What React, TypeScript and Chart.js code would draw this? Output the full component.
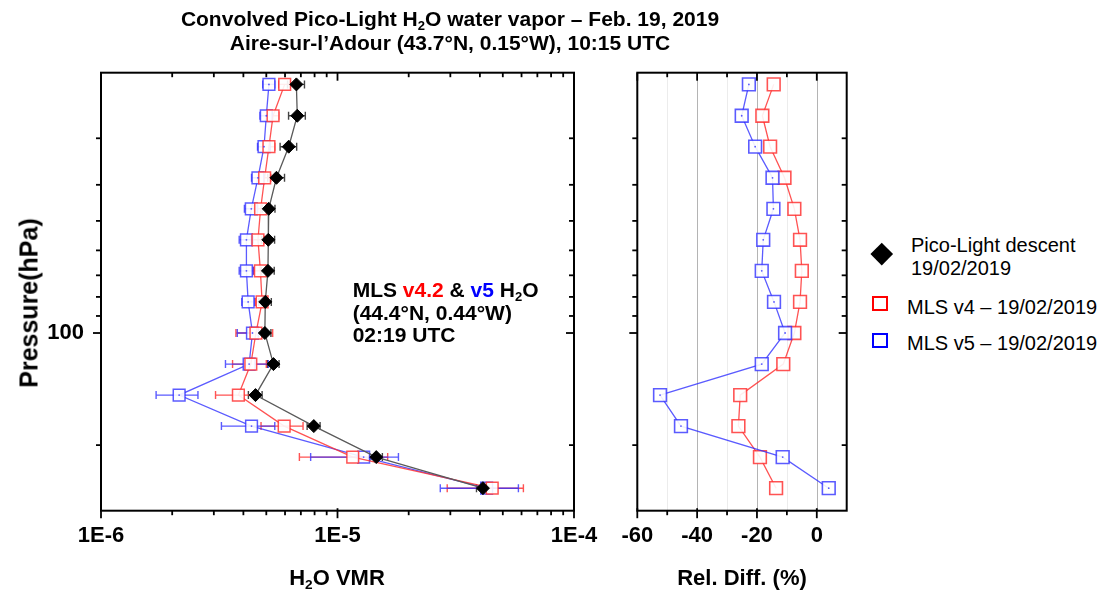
import React, { useEffect, useRef } from 'react';
import { Chart, registerables } from 'chart.js';

Chart.register(...registerables);

const FONT = '"Liberation Sans", Arial, Helvetica, sans-serif';

// ---------- data ----------
const pressureLevels = [21.5, 26.1, 31.6, 38.3, 46.4, 56.2, 68.1, 82.5, 100.0, 121.2, 146.8, 177.8, 215.4, 261.0];

const picoVmr = [6.70e-6, 6.76e-6, 6.22e-6, 5.52e-6, 5.12e-6, 5.10e-6, 5.08e-6, 4.95e-6, 4.93e-6, 5.36e-6, 4.50e-6, 7.94e-6, 1.458e-5, 4.12e-5];
const picoErr = [0.55e-6, 0.55e-6, 0.5e-6, 0.45e-6, 0.32e-6, 0.32e-6, 0.32e-6, 0.3e-6, 0.3e-6, 0.3e-6, 0.3e-6, 0.5e-6, 0.9e-6, 2.5e-6];

const mlsV4Vmr = [5.98e-6, 5.34e-6, 5.13e-6, 4.92e-6, 4.73e-6, 4.61e-6, 4.72e-6, 4.80e-6, 4.52e-6, 4.30e-6, 3.81e-6, 5.95e-6, 1.16e-5, 4.51e-5];
const mlsV4Err = [0.33e-6, 0.3e-6, 0.3e-6, 0.3e-6, 0.3e-6, 0.3e-6, 0.3e-6, 0.3e-6, 0.8e-6, 0.7e-6, 0.76e-6, 1.2e-6, 4.7e-6, 1.6e-5];

const mlsV5Vmr = [5.13e-6, 5.00e-6, 4.89e-6, 4.61e-6, 4.32e-6, 4.12e-6, 4.12e-6, 4.19e-6, 4.37e-6, 4.23e-6, 2.14e-6, 4.33e-6, 1.29e-5, 4.27e-5];
const mlsV5Err = [0.3e-6, 0.3e-6, 0.3e-6, 0.28e-6, 0.28e-6, 0.28e-6, 0.28e-6, 0.25e-6, 0.6e-6, 0.87e-6, 0.43e-6, 1.1e-6, 5.2e-6, 1.55e-5];

const relDiffV4 = [-14.4, -18.2, -15.6, -10.8, -7.5, -5.6, -5.0, -5.6, -7.5, -11.2, -25.6, -26.2, -19.0, -13.6];
const relDiffV5 = [-22.7, -25.1, -20.6, -14.8, -14.5, -17.9, -18.4, -14.3, -10.6, -18.4, -52.4, -45.4, -11.4, 4.0];

// ---------- axes ----------
const vmrMajorTicks = [1e-6, 1e-5, 1e-4];
const vmrTickLabels = ['1E-6', '1E-5', '1E-4'];
const vmrMinorTicks = [2e-6, 3e-6, 4e-6, 5e-6, 6e-6, 7e-6, 8e-6, 9e-6, 2e-5, 3e-5, 4e-5, 5e-5, 6e-5, 7e-5, 8e-5, 9e-5];
const pressureMajorTicks = [100];
const pressureMinorTicks = [30, 40, 50, 60, 70, 80, 90, 200];
const diffMajorTicks = [-60, -40, -20, 0];
const diffMinorTicks = [-50, -30, -10];
const diffGridMajor = [-40, -20, 0];
const diffGridMinor = [-50, -30, -10];

const RED = 'rgba(255,45,45,0.82)';
const BLUE = 'rgba(45,45,255,0.78)';
const GRAYLINE = '#5a5a5a';

const TICK_FONT = { family: FONT, size: 22, weight: 'bold' as const };

const framePlugin = {
  id: 'frame',
  beforeDatasetsDraw(chart: any, _a: any, opts: any) {
    const { ctx, chartArea } = chart;
    const xs = chart.scales.x;
    ctx.save();
    ctx.lineWidth = 1;
    (opts.gridMinor || []).forEach((v: number) => {
      const px = Math.round(xs.getPixelForValue(v)) + 0.5;
      ctx.strokeStyle = '#ececec';
      ctx.beginPath();
      ctx.moveTo(px, chartArea.top);
      ctx.lineTo(px, chartArea.bottom);
      ctx.stroke();
    });
    (opts.gridMajor || []).forEach((v: number) => {
      const px = Math.round(xs.getPixelForValue(v)) + 0.5;
      ctx.strokeStyle = '#b4b4b4';
      ctx.beginPath();
      ctx.moveTo(px, chartArea.top);
      ctx.lineTo(px, chartArea.bottom);
      ctx.stroke();
    });
    ctx.restore();
  },
  afterDraw(chart: any, _a: any, opts: any) {
    const { ctx, chartArea } = chart;
    const { left, right, top, bottom } = chartArea;
    const xs = chart.scales.x;
    const ys = chart.scales.y;
    ctx.save();
    ctx.strokeStyle = '#000';
    ctx.lineWidth = 2;
    ctx.strokeRect(left, top, right - left, bottom - top);
    ctx.lineWidth = 1.8;
    const line = (x1: number, y1: number, x2: number, y2: number) => {
      ctx.beginPath();
      ctx.moveTo(x1, y1);
      ctx.lineTo(x2, y2);
      ctx.stroke();
    };
    (opts.xMajor || []).forEach((v: number) => {
      const px = xs.getPixelForValue(v);
      line(px, bottom - 2.5, px, bottom + 7.5);
      line(px, top, px, top + 8);
    });
    (opts.xMinor || []).forEach((v: number) => {
      const px = xs.getPixelForValue(v);
      line(px, bottom, px, bottom + 4.5);
      line(px, top, px, top + 4.5);
    });
    (opts.yMajor || []).forEach((v: number) => {
      const py = ys.getPixelForValue(v);
      line(left - 8, py, left, py);
      line(right - 8, py, right, py);
    });
    (opts.yMinor || []).forEach((v: number) => {
      const py = ys.getPixelForValue(v);
      line(left - 5, py, left, py);
      line(right - 5, py, right, py);
    });
    ctx.restore();
  },
};

const errorBarPlugin = {
  id: 'errorBars',
  beforeDatasetsDraw(chart: any) {
    const { ctx } = chart;
    const xs = chart.scales.x;
    const ys = chart.scales.y;
    chart.data.datasets.forEach((ds: any) => {
      if (!ds.errors) return;
      ctx.save();
      ctx.strokeStyle = ds.errorColor;
      ctx.lineWidth = 1.4;
      ds.data.forEach((pt: any, j: number) => {
        const e = ds.errors[j];
        const x1 = xs.getPixelForValue(pt.x - e);
        const x2 = xs.getPixelForValue(pt.x + e);
        const y = ys.getPixelForValue(pt.y);
        ctx.beginPath();
        ctx.moveTo(x1, y);
        ctx.lineTo(x2, y);
        ctx.moveTo(x1, y - 4);
        ctx.lineTo(x1, y + 4);
        ctx.moveTo(x2, y - 4);
        ctx.lineTo(x2, y + 4);
        ctx.stroke();
      });
      ctx.restore();
    });
  },
};

const pts = (xs: number[]) => pressureLevels.map((p, i) => ({ x: xs[i], y: p }));

function T(props: any) {
  const { x, base, size, bold, align, children, color } = props;
  const style: any = {
    position: 'absolute',
    left: x,
    top: base - 0.8465 * size,
    fontFamily: FONT,
    fontSize: size,
    lineHeight: `${size}px`,
    fontWeight: bold ? 'bold' : 'normal',
    whiteSpace: 'nowrap',
    color: color || '#000',
    transform: align === 'center' ? 'translateX(-50%)' : align === 'right' ? 'translateX(-100%)' : undefined,
  };
  return <div style={style}>{children}</div>;
}

const Sub = ({ children }: any) => (
  <span style={{ fontSize: '0.62em', position: 'relative', top: '0.28em', lineHeight: 0 }}>{children}</span>
);

export default function App() {
  const leftRef = useRef<HTMLCanvasElement>(null);
  const rightRef = useRef<HTMLCanvasElement>(null);

  useEffect(() => {
    const commonY = {
      type: 'logarithmic' as const,
      reverse: true,
      min: 20,
      max: 300,
      grid: { display: false, drawTicks: false },
      border: { display: false },
    };

    const left = new Chart(leftRef.current!, {
      type: 'scatter',
      data: {
        datasets: [
          {
            label: 'Pico-Light descent',
            data: pts(picoVmr),
            showLine: true,
            borderColor: GRAYLINE,
            borderWidth: 1.3,
            pointStyle: 'rectRot',
            pointRadius: 6.5,
            pointBackgroundColor: '#000',
            pointBorderColor: '#000',
            pointBorderWidth: 1,
            order: 0,
            errors: picoErr,
            errorColor: '#444',
          } as any,
          {
            label: 'MLS v5 centre',
            data: pts(mlsV5Vmr),
            showLine: false,
            pointStyle: 'circle',
            pointRadius: 0.9,
            pointBackgroundColor: BLUE,
            pointBorderWidth: 0,
            order: 1,
          } as any,
          {
            label: 'MLS v4',
            data: pts(mlsV4Vmr),
            showLine: true,
            borderColor: RED,
            borderWidth: 1.3,
            pointStyle: 'rect',
            pointRadius: 8.3,
            pointBackgroundColor: 'rgba(255,255,255,0.9)',
            pointBorderColor: RED,
            pointBorderWidth: 1.5,
            order: 2,
            errors: mlsV4Err,
            errorColor: RED,
          } as any,
          {
            label: 'MLS v5',
            data: pts(mlsV5Vmr),
            showLine: true,
            borderColor: BLUE,
            borderWidth: 1.3,
            pointStyle: 'rect',
            pointRadius: 8.3,
            pointBackgroundColor: 'rgba(255,255,255,0.9)',
            pointBorderColor: BLUE,
            pointBorderWidth: 1.5,
            order: 3,
            errors: mlsV5Err,
            errorColor: BLUE,
          } as any,
        ],
      },
      options: {
        animation: false,
        responsive: false,
        maintainAspectRatio: false,
        devicePixelRatio: 1,
        layout: { padding: { left: 0, right: 46, top: 72.7, bottom: 0 } },
        plugins: {
          legend: { display: false },
          tooltip: { enabled: false },
          frame: { xMajor: vmrMajorTicks, xMinor: vmrMinorTicks, yMajor: pressureMajorTicks, yMinor: pressureMinorTicks },
        } as any,
        scales: {
          x: {
            type: 'logarithmic',
            position: 'bottom',
            min: 1e-6,
            max: 1e-4,
            grid: { display: false, drawTicks: false },
            border: { display: false },
            ticks: {
              font: TICK_FONT,
              color: '#000',
              padding: 12,
              autoSkip: false,
              maxRotation: 0,
              callback: (v: any) => {
                const i = vmrMajorTicks.findIndex((m) => Math.abs(m - Number(v)) / m < 1e-6);
                return i >= 0 ? vmrTickLabels[i] : '';
              },
            },
            afterBuildTicks: (s: any) => {
              s.ticks = vmrMajorTicks.map((v) => ({ value: v }));
            },
            afterFit: (s: any) => {
              s.height = 596 - 510.7;
            },
          },
          y: {
            ...commonY,
            position: 'left',
            ticks: {
              font: TICK_FONT,
              color: '#000',
              padding: 17,
              autoSkip: false,
              callback: (v: any) => String(Math.round(Number(v))),
            },
            afterBuildTicks: (s: any) => {
              s.ticks = pressureMajorTicks.map((v) => ({ value: v }));
            },
            afterFit: (s: any) => {
              s.width = 101;
            },
          },
        } as any,
      },
      plugins: [framePlugin, errorBarPlugin],
    });

    const right = new Chart(rightRef.current!, {
      type: 'scatter',
      data: {
        datasets: [
          {
            label: 'MLS v5 centre',
            data: pts(relDiffV5),
            showLine: false,
            pointStyle: 'circle',
            pointRadius: 0.9,
            pointBackgroundColor: BLUE,
            pointBorderWidth: 0,
            order: 0,
          } as any,
          {
            label: 'MLS v5',
            data: pts(relDiffV5),
            showLine: true,
            borderColor: BLUE,
            borderWidth: 1.3,
            pointStyle: 'rect',
            pointRadius: 9,
            pointBackgroundColor: 'rgba(255,255,255,0.9)',
            pointBorderColor: BLUE,
            pointBorderWidth: 1.6,
            order: 1,
          } as any,
          {
            label: 'MLS v4',
            data: pts(relDiffV4),
            showLine: true,
            borderColor: RED,
            borderWidth: 1.3,
            pointStyle: 'rect',
            pointRadius: 9,
            pointBackgroundColor: 'rgba(255,255,255,0.9)',
            pointBorderColor: RED,
            pointBorderWidth: 1.6,
            order: 2,
          } as any,
        ],
      },
      options: {
        animation: false,
        responsive: false,
        maintainAspectRatio: false,
        devicePixelRatio: 1,
        layout: { padding: { left: 47.3, right: 13.3, top: 72.7, bottom: 0 } },
        plugins: {
          legend: { display: false },
          tooltip: { enabled: false },
          frame: {
            xMajor: diffMajorTicks,
            xMinor: diffMinorTicks,
            yMajor: pressureMajorTicks,
            yMinor: pressureMinorTicks,
            gridMajor: diffGridMajor,
            gridMinor: diffGridMinor,
          },
        } as any,
        scales: {
          x: {
            type: 'linear',
            position: 'bottom',
            min: -60,
            max: 10,
            grid: { display: false, drawTicks: false },
            border: { display: false },
            ticks: {
              font: TICK_FONT,
              color: '#000',
              padding: 12,
              autoSkip: false,
              maxRotation: 0,
              callback: (v: any) => String(v),
            },
            afterBuildTicks: (s: any) => {
              s.ticks = diffMajorTicks.map((v) => ({ value: v }));
            },
            afterFit: (s: any) => {
              s.height = 596 - 510.7;
            },
          },
          y: { ...commonY, display: false },
        } as any,
      },
      plugins: [framePlugin],
    });

    return () => {
      left.destroy();
      right.destroy();
    };
  }, []);

  return (
    <div style={{ position: 'absolute', left: 0, top: 0, width: 1108, height: 596, background: '#fff', overflow: 'hidden' }}>
      <canvas ref={leftRef} width={620} height={596} style={{ position: 'absolute', left: 0, top: 0, width: 620, height: 596 }} />
      <canvas ref={rightRef} width={270} height={596} style={{ position: 'absolute', left: 590, top: 0, width: 270, height: 596 }} />

      <T x={450} base={26} size={21} bold align="center">
        Convolved Pico-Light H<Sub>2</Sub>O water vapor – Feb. 19, 2019
      </T>
      <T x={450} base={50} size={21} bold align="center">
        Aire-sur-l’Adour (43.7°N, 0.15°W), 10:15 UTC
      </T>

      <div
        style={{
          position: 'absolute',
          left: 29,
          top: 303,
          transform: 'translate(-50%, -50%) rotate(-90deg)',
          fontFamily: FONT,
          fontSize: 25,
          fontWeight: 'bold',
          whiteSpace: 'nowrap',
          lineHeight: '25px',
        }}
      >
        Pressure(hPa)
      </div>

      <T x={337} base={586} size={22} bold align="center">
        H<Sub>2</Sub>O VMR
      </T>
      <T x={742} base={586} size={22} bold align="center">
        Rel. Diff. (%)
      </T>

      <T x={352.7} base={297} size={21} bold>
        MLS <span style={{ color: '#ff0000' }}>v4.2</span> &amp; <span style={{ color: '#0000ff' }}>v5</span> H<Sub>2</Sub>O
      </T>
      <T x={352.7} base={319.5} size={21} bold>
        (44.4°N, 0.44°W)
      </T>
      <T x={352.7} base={342} size={21} bold>
        02:19 UTC
      </T>

      {/* legend */}
      <div
        style={{
          position: 'absolute',
          left: 881.7 - 7.75,
          top: 253.3 - 7.75,
          width: 15.5,
          height: 15.5,
          background: '#000',
          transform: 'rotate(45deg)',
        }}
      />
      <T x={911} base={251.7} size={20}>
        Pico-Light descent
      </T>
      <T x={911} base={275} size={20}>
        19/02/2019
      </T>
      <div
        style={{
          position: 'absolute',
          left: 872,
          top: 295.5,
          width: 16,
          height: 15,
          boxSizing: 'border-box',
          border: '2px solid #ff0000',
        }}
      />
      <T x={907} base={314} size={20}>
        MLS v4 – 19/02/2019
      </T>
      <div
        style={{
          position: 'absolute',
          left: 872,
          top: 333,
          width: 16,
          height: 15,
          boxSizing: 'border-box',
          border: '2px solid #0000ff',
        }}
      />
      <T x={907} base={350} size={20}>
        MLS v5 – 19/02/2019
      </T>
    </div>
  );
}
